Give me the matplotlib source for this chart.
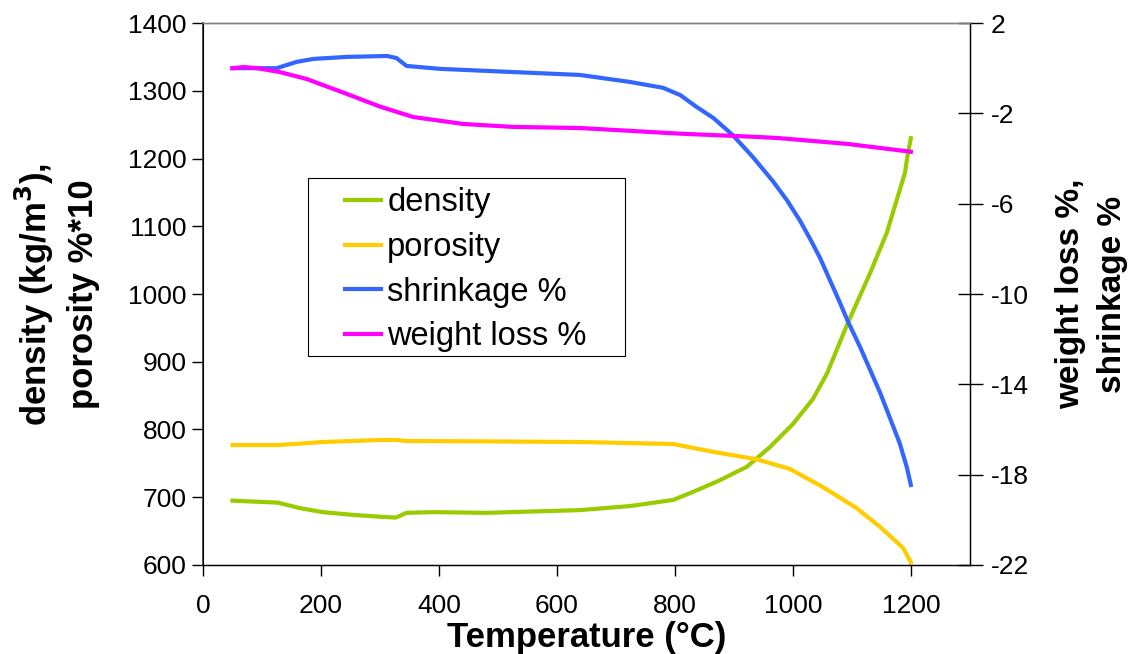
import numpy as np
import matplotlib.pyplot as plt
from matplotlib.patches import Rectangle
from matplotlib.ticker import MultipleLocator

plt.rcParams['font.family'] = ['Liberation Sans', 'DejaVu Sans']
plt.rcParams['axes.unicode_minus'] = False

# Values
density_temp = [50, 127, 164, 203, 254, 305, 327, 345, 390, 481, 639, 724, 797, 831, 876,
                922, 961, 1000, 1034, 1058, 1093, 1131, 1159, 1181, 1190, 1195, 1200]
density = [695, 692, 684, 678, 674, 671, 670, 677, 678, 677, 681, 687, 696, 708, 725,
           745, 774, 808, 845, 883, 957, 1031, 1090, 1153, 1179, 1208, 1230]

porosity_temp = [50, 127, 203, 300, 327, 345, 480, 639, 797, 865, 939, 995, 1051, 1108,
                 1148, 1187, 1200]
porosity = [777, 777, 781.5, 784.5, 784.5, 783, 782.5, 781.5, 778.6, 767, 756, 741.7, 715,
            684, 656, 625, 604]

shrink_temp = [50, 125, 159, 187, 244, 312, 328, 345, 402, 639, 724, 780, 809, 837, 865,
               898, 932, 966, 990, 1012, 1029, 1046, 1080, 1093, 1114, 1148, 1181, 1193, 1200]
shrinkage = [0.0, 0.0, 0.28, 0.41, 0.5, 0.54, 0.45, 0.1, -0.03, -0.3, -0.61, -0.87, -1.19,
             -1.72, -2.2, -2.96, -3.93, -5.0, -5.85, -6.75, -7.55, -8.4, -10.4, -11.2,
             -12.35, -14.38, -16.6, -17.66, -18.46]

wloss_temp = [50, 70, 92, 130, 176, 244, 300, 356, 441, 525, 639, 809, 944, 978, 1091, 1200]
weight_loss = [0.0, 0.05, 0.0, -0.17, -0.48, -1.14, -1.7, -2.16, -2.47, -2.6, -2.65, -2.9,
               -3.05, -3.1, -3.35, -3.7]

fig = plt.figure(figsize=(11.37, 6.54), dpi=100)
ax = fig.add_axes([0.1785, 0.1361, 0.6745, 0.8287])
ax2 = ax.twinx()

ax.plot(density_temp, density, color='#99CC00', linewidth=3, label='density')
ax.plot(porosity_temp, porosity, color='#FFCC00', linewidth=3, label='porosity')
ax2.plot(shrink_temp, shrinkage, color='#3366FF', linewidth=3, label='shrinkage %')
ax2.plot(wloss_temp, weight_loss, color='#FF00FF', linewidth=3, label='weight loss %')

# Axes limits and ticks
ax.set_xlim(0, 1300)
ax.set_ylim(600, 1400)
ax2.set_ylim(-22, 2)
ax.get_xaxis().set_major_locator(MultipleLocator(200))
ax.get_yaxis().set_major_locator(MultipleLocator(100))
ax2.set_yticks(np.arange(-22, 3, 4))
ax.tick_params(axis='x', direction='out', length=8, width=1, labelsize=19, pad=13)
ax.tick_params(axis='y', direction='out', length=8, width=1, labelsize=19, pad=4)
ax2.tick_params(axis='y', direction='inout', length=18, width=1, labelsize=19, pad=6)

ax.spines['top'].set(color='#808080', linewidth=1)
ax2.spines['top'].set(color='#808080', linewidth=1)
ax.spines['left'].set(color='#333333', linewidth=1.2)
ax2.spines['right'].set(color='black', linewidth=1)
ax.spines['bottom'].set(color='black', linewidth=1)

ax.set_xlabel('Temperature (°C)', fontsize=25, fontweight='bold', labelpad=2)
ax.set_ylabel('density (kg/m$^\\mathbf{3}$),\nporosity %*10', fontsize=25,
              fontweight='bold', labelpad=20, linespacing=1.4)
ax2.set_ylabel('weight loss %,\nshrinkage %', fontsize=24, fontweight='bold',
               labelpad=19, linespacing=1.45, rotation=90)

# Legend box drawn separately so the handles sit further from its left edge
ax2.add_patch(Rectangle((0.137, 0.386), 0.413, 0.328, transform=ax2.transAxes,
                        facecolor='white', edgecolor='black', linewidth=0.8, zorder=4))
handles = ax.get_lines() + ax2.get_lines()
legend = ax2.legend(handles=handles, labels=[h.get_label() for h in handles],
                    loc='upper left', bbox_to_anchor=(0.185, 0.697), fontsize=23.5,
                    frameon=False, handlelength=1.1, handletextpad=0.2, borderpad=0,
                    labelspacing=0.42, borderaxespad=0)
legend.set_zorder(5)

plt.savefig('out.png', dpi=100)
